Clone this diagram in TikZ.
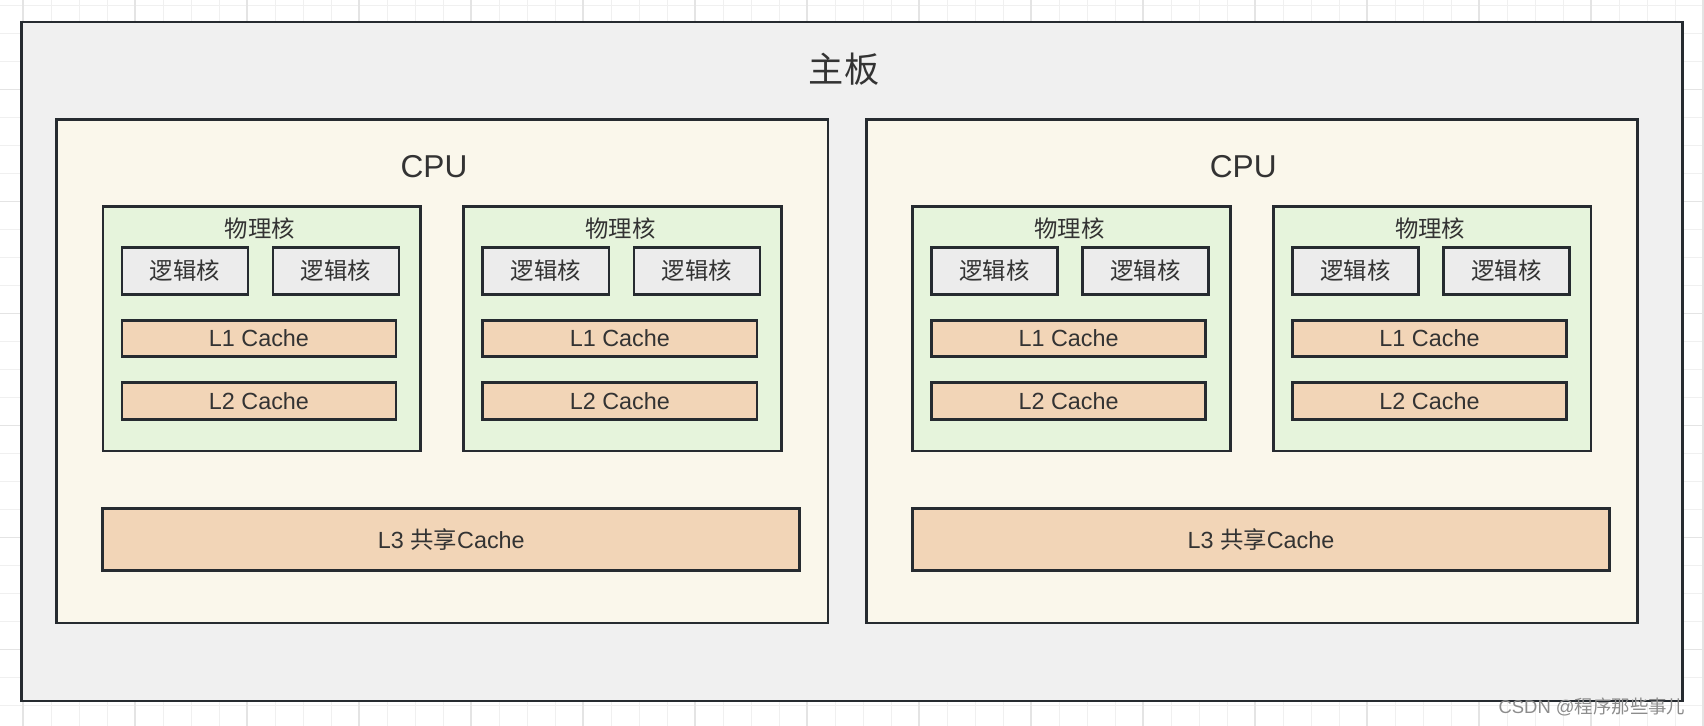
\documentclass[tikz,border=0pt]{standalone}
\usepackage{fontspec}
\setmainfont{Liberation Sans}
\newfontfamily\cjk{Noto Sans CJK SC}
\usepackage{tikz}
\usetikzlibrary{positioning}
\definecolor{edge}{HTML}{262B30}
\definecolor{ink}{HTML}{333333}
\definecolor{boardbg}{HTML}{F0F0F0}
\definecolor{cpubg}{HTML}{FAF7EB}
\definecolor{corebg}{HTML}{E6F4DC}
\definecolor{logicbg}{HTML}{ECECEC}
\definecolor{cachebg}{HTML}{F2D5B7}
\definecolor{gridminor}{HTML}{F0F0F0}
\definecolor{gridmajor}{HTML}{E4E4E4}
\definecolor{mark}{HTML}{8C8C8C}

\begin{document}
\begin{tikzpicture}[x=1cm,y=1cm, every node/.style={text=ink, inner sep=0pt},
  box/.style={draw=edge, line width=1.6pt},
  board/.style={box, fill=boardbg, minimum width=33.22cm, minimum height=13.58cm},
  cpu/.style={box, fill=cpubg, minimum width=15.43cm, minimum height=10.07cm},
  phys/.style={box, fill=corebg, minimum width=6.35cm, minimum height=4.89cm},
  logic/.style={box, fill=logicbg, minimum width=2.52cm, minimum height=0.93cm,
                font=\cjk\fontsize{13.3}{16}\selectfont},
  cache/.style={box, fill=cachebg, minimum width=5.48cm, minimum height=0.73cm,
                font=\fontsize{13.3}{16}\selectfont},
  shared/.style={cache, minimum width=13.94cm, minimum height=1.25cm},
  boardname/.style={font=\cjk\fontsize{20}{24}\selectfont},
  cpuname/.style={font=\fontsize{18}{22}\selectfont},
  physname/.style={font=\cjk\fontsize{13.3}{16}\selectfont},
]
  \useasboundingbox (0,0) rectangle (34.08,-14.52);

  % Canvas grid
  \begin{scope}
    \clip (0,0) rectangle (34.08,-14.52);
    \draw[gridminor, line width=0.8pt, step=0.56, shift={(0.466,-0.666)}] (-1,1) grid (34,-15);
    \draw[gridmajor, line width=0.9pt, step=2.24, shift={(2.7,-1.786)}] (-3,2) grid (32,-14);
  \end{scope}

  % Board
  \node[board] (board) at (17.04,-7.23) {};
  \node[boardname] (boardtitle) at (16.88,-1.39) {主板};

  % Left CPU
  \node[cpu] (cpuA) at (8.845,-7.425) {};
  \node[cpuname] (cpuAname) at (8.68,-3.326) {CPU};
  \node[phys] (P1) at (5.235,-6.575) {};
  \node[physname] (P1name) at (5.195,-4.566) {物理核};
  \node[logic] (P1a) at (3.70,-5.417) {逻辑核};
  \node[logic] (P1b) at (6.72,-5.417) {逻辑核};
  \node[cache] (P1l1) at (5.18,-6.767) {L1 Cache};
  \node[cache] (P1l2) at (5.18,-8.02) {L2 Cache};
  \node[phys] (P2) at (12.453,-6.575) {};
  \node[physname] (P2name) at (12.413,-4.566) {物理核};
  \node[logic] (P2a) at (10.918,-5.417) {逻辑核};
  \node[logic] (P2b) at (13.938,-5.417) {逻辑核};
  \node[cache] (P2l1) at (12.398,-6.767) {L1 Cache};
  \node[cache] (P2l2) at (12.398,-8.02) {L2 Cache};
  \node[shared] (L3A) at (9.027,-10.793) {L3 {\cjk 共享}Cache};

  % Right CPU
  \node[cpu] (cpuB) at (25.037,-7.425) {};
  \node[cpuname] (cpuBname) at (24.864,-3.326) {CPU};
  \node[phys] (P3) at (21.427,-6.575) {};
  \node[physname] (P3name) at (21.387,-4.566) {物理核};
  \node[logic] (P3a) at (19.892,-5.417) {逻辑核};
  \node[logic] (P3b) at (22.912,-5.417) {逻辑核};
  \node[cache] (P3l1) at (21.372,-6.767) {L1 Cache};
  \node[cache] (P3l2) at (21.372,-8.02) {L2 Cache};
  \node[phys] (P4) at (28.645,-6.575) {};
  \node[physname] (P4name) at (28.605,-4.566) {物理核};
  \node[logic] (P4a) at (27.11,-5.417) {逻辑核};
  \node[logic] (P4b) at (30.13,-5.417) {逻辑核};
  \node[cache] (P4l1) at (28.59,-6.767) {L1 Cache};
  \node[cache] (P4l2) at (28.59,-8.02) {L2 Cache};
  \node[shared] (L3B) at (25.219,-10.793) {L3 {\cjk 共享}Cache};

  % Watermark
  \node[text=mark, font=\fontsize{10.5}{12}\selectfont] (wm) at (31.84,-14.14) {CSDN @{\cjk 程序那些事儿}};
\end{tikzpicture}
\end{document}
